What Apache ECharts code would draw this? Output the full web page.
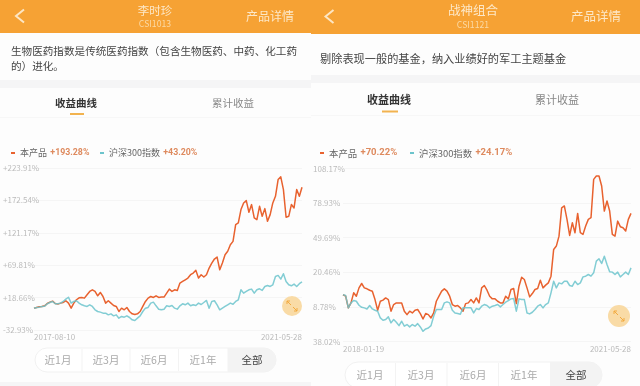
<!DOCTYPE html>
<html><head><meta charset="utf-8">
<style>html,body{margin:0;padding:0;background:#fdfdfd}#c{width:640px;height:386px;filter:blur(0.45px)}</style>
<script src="https://cdn.jsdelivr.net/npm/echarts@6/dist/echarts.min.js"></script>
</head><body><div id="c"></div>
<script>
const leftProduct=[1.7,2.8,3.8,4.4,5.4,9.1,11.2,12.8,9.1,8.1,9.7,10.7,13.4,9.7,1.7,9.7,15,18.1,18.7,17.6,22.9,28.2,30.8,28.2,21.3,26.6,20.2,9.7,13.4,9.7,6,4.4,-3.6,1.7,-0.9,2.8,-3.6,-7.3,-8.4,-7.3,-3.6,4.4,12.3,17.6,20.2,18.7,21.3,18.7,19.2,19.2,25.5,31.9,28.2,30.8,29.8,41.4,44.1,46.7,49.4,54.7,57.3,61.6,49.4,54.7,51,54.7,65.3,73.2,79.6,82.7,62.6,73.2,86.4,91.8,102.3,107.6,134.1,136.8,158,168.5,172.2,153.7,165.9,144.7,142,163.2,147.3,159.5,139.4,150,168.5,179.1,205.6,209.8,189.7,145.8,147.3,165.9,160.6,189.7,179.1,193.28];
const leftIndex=[1.7,2.8,3.3,4.4,4.9,8.6,10.7,12.3,8.6,8.6,9.7,12.3,16,19,9.7,12.3,13.4,9.7,7,5.4,4.4,7,4.4,-0.9,-3.6,-4.6,-6.2,-6.2,-8.9,-7.3,-10.5,-8.9,-14.2,-11.5,-12.6,-10.5,-13.1,-16.8,-17.9,-14.2,-10.5,-3.6,1.7,2.8,9.7,11.2,5.4,0.1,-0.9,0.1,5.4,4.4,6,1.7,0.1,5.4,8.6,7,9.7,5.4,7,6,9.7,7.5,10.7,13.9,1.7,12.3,13.4,7,-0.9,1.7,4.4,7,9.7,8,12.3,15,30.8,25.5,28.2,30.8,31.9,25.5,30.8,32.4,29.8,36.1,37.7,36.1,38.8,52,53.6,47.8,56.3,44.1,38.8,37.2,39.8,36.1,40.4,43.2];
const rightProduct=[1.5,0.25,-9.6,-5.4,3.1,0.25,7.3,11,7.3,6.5,5.3,4.5,-2.6,-11.6,-4,-3.1,-1.2,-2.6,-12.4,-6.8,-5.4,-5.4,-5.4,-12.4,-15.3,-12.4,-13.9,-11.6,-11,-14.4,-19,-14.4,-15.3,-18.1,-13.9,-4,0.25,4.5,6.5,4.5,0.25,-6.8,-8.2,-7.6,-9.6,-12.4,-6,-5.4,-2.6,-5.4,-1.2,-5.4,7.3,9.3,5.3,0.25,-2,-2,-4,-5.4,-5.4,0.25,-2,5.9,6.7,-6,8.7,16.3,14.4,7.3,-0.3,2.5,5.9,6.7,13.8,7.3,9.6,11.5,17.2,39.8,42.6,51,75,76.5,65.2,51.6,62.3,53.9,70.2,53.9,52.5,59.5,65.2,66.6,99,101.8,101.8,93.4,72.2,80.7,72.2,52.5,51,63.7,59,58.1,55.3,65.2,70.22];
const rightIndex=[1.5,0.8,-9.6,-5.4,-3.4,-4,-7.4,-9.1,-9.6,-10.5,-7.6,-10.5,-11.6,-12.4,-18.1,-20.1,-19.5,-17.2,-22.3,-19.5,-21.8,-24.6,-20.9,-25.1,-23.7,-25.7,-23.7,-25.1,-22.9,-25.7,-29.4,-27.4,-26.6,-24.6,-16.7,-11,-11,-11,-5.4,-4.5,-5.4,-11.6,-13.9,-14.4,-15,-9.6,-9.6,-9.6,-9.6,-13.9,-10.2,-11,-8.2,-6.8,-7.6,-9.6,-8.2,-7.6,-6.8,-8.8,-6.8,-4.8,-3.4,-2,-1.7,-12.4,-2,-2.6,-2.6,-13.9,-14.7,-13.3,-11,-8.2,-6.8,-9.6,-6.8,-5.4,3.1,12.9,7.3,11.5,10.7,12.9,12.9,9.3,8.7,12.9,10.1,11.5,16.6,17.2,18.6,17.2,20,29.9,31.9,27.9,34.1,27,20.9,20.6,18.6,20.6,16.6,18.6,20.6,18.6,24.17];
const leftTicks=[-32.93,18.66,69.81,121.17,172.54,223.91];
const leftTickLabels=['-32.93%','+18.66%','+69.81%','+121.17%','+172.54%','+223.91%'];
const rightTicks=[-38.02,-8.78,20.46,49.69,78.93,108.17];
const rightTickLabels=['38.02%','8.78%','20.46%','49.69%','78.93%','108.17%'];
const leftDates=['2017-08-10','2021-05-28'];
const rightDates=['2018-01-19','2021-05-28'];
const seriesNames=['本产品','沪深300指数'];
const leftReturns=['+193.28%','+43.20%'];
const rightReturns=['+70.22%','+24.17%'];
const ranges=['近1月','近3月','近6月','近1年','全部'];

const FONT='"Noto Sans CJK SC","Noto Sans",sans-serif';
const ORANGE='#E8622F',TEAL='#6CC4CC',HEAD='#F6A234';

function cats(n,d){const a=new Array(n).fill('').map((_,i)=>'p'+i);a[0]=d[0];a[n-1]=d[1];return a;}
function t(x,y,s,size,color,align,weight){return {type:'text',silent:true,z:5,x,y,style:{text:s,fontSize:size,fill:color,align:align||'center',verticalAlign:'middle',fontFamily:FONT,fontWeight:weight||'normal'}};}
function r(x,y,w,h,fill){return {type:'rect',silent:true,z:1,shape:{x,y,width:w,height:h},style:{fill}};}
function chevron(x,y){return {type:'polyline',silent:true,z:5,shape:{points:[[x+8,y-6.5],[x,y],[x+8,y+6.5]]},style:{stroke:'#FCE6C4',lineWidth:2,fill:null}};}
function expand(cx,cy,rad){return [
 {type:'circle',silent:true,z:5,shape:{cx,cy,r:rad},style:{fill:'#F9DBA6'}},
 {type:'polyline',silent:true,z:6,shape:{points:[[cx-5,cy-2],[cx-5,cy-5],[cx-2,cy-5]]},style:{stroke:'#F2A93E',lineWidth:1,fill:null}},
 {type:'line',silent:true,z:6,shape:{x1:cx-5,y1:cy-5,x2:cx-1,y2:cy-1},style:{stroke:'#F2A93E',lineWidth:1}},
 {type:'polyline',silent:true,z:6,shape:{points:[[cx+5,cy+2],[cx+5,cy+5],[cx+2,cy+5]]},style:{stroke:'#F2A93E',lineWidth:1,fill:null}},
 {type:'line',silent:true,z:6,shape:{x1:cx+5,y1:cy+5,x2:cx+1,y2:cy+1},style:{stroke:'#F2A93E',lineWidth:1}}
];}
function pills(x0,x1,y0,h,centers){
 const w=x1-x0,out=[{type:'rect',silent:true,z:2,shape:{x:x0,y:y0,width:w,height:h,r:h/2},style:{fill:'#fff',stroke:'#f1f1f1',lineWidth:1}}];
 const sep=[(centers[0]+centers[1])/2,(centers[1]+centers[2])/2,(centers[2]+centers[3])/2,(centers[3]+centers[4])/2];
 sep.slice(0,3).forEach(s=>out.push({type:'line',silent:true,z:3,shape:{x1:s,y1:y0+1,x2:s,y2:y0+h-1},style:{stroke:'#f3f3f3',lineWidth:1}}));
 out.push({type:'rect',silent:true,z:3,shape:{x:sep[3],y:y0,width:x1-sep[3],height:h,r:[0,h/2,h/2,0]},style:{fill:'#f3f3f3'}});
 ranges.forEach((s,i)=>out.push(t(centers[i],y0+h/2,s,10.5,i==4?'#444':'#aaa')));
 return out;
}
const graphic=[
 r(0,0,311,33,HEAD),r(311,0,329,34,HEAD),
 r(0,80,311,8,'#f5f5f6'),r(311,75,329,8,'#f5f5f6'),
 r(0,117,311,1,'#f7f7f7'),r(311,115,329,1,'#f7f7f7'),
 r(0,382,311,4,'#f5f5f6'),
 chevron(16,16),chevron(325.5,16.5),
 t(155,11,'李时珍',11.5,'#FDE8C8'),t(155,24,'CSI1013',8.7,'#FBD9A4'),t(270,16,'产品详情',12,'#FDE8C8'),
 t(473,10,'战神组合',12.5,'#FDE8C8'),t(473,25,'CSI1121',8.7,'#FBD9A4'),t(596,16,'产品详情',12.5,'#FDE8C8'),
 t(11,51,'生物医药指数是传统医药指数（包含生物医药、中药、化工药',10.6,'#444','left'),
 t(11,66,'的）进化。',10.6,'#444','left'),
 t(320,59,'剔除表现一般的基金，纳入业绩好的军工主题基金',11.2,'#444','left'),
 t(76,103,'收益曲线',10.5,'#333','center','bold'),t(233,103,'累计收益',10.5,'#888'),
 t(389,100,'收益曲线',11,'#333','center','bold'),t(557,100,'累计收益',11,'#888'),
 {type:'rect',silent:true,z:5,shape:{x:70,y:113,width:14,height:2},style:{fill:'#F2B34F'}},
 {type:'rect',silent:true,z:5,shape:{x:382,y:110.5,width:16,height:2},style:{fill:'#F2B34F'}},
 ...pills(35,276,348,24,[58,106,154,203,252]),
 ...pills(345,602,362,26,[370,421,473,524,576]),
 ...expand(292,306,10),...expand(619,316,11)
];
function legend(left,top,name,val,fn,fv){return {left,top,itemWidth:4,itemHeight:2,icon:'rect',selectedMode:false,data:[name],padding:0,
 formatter:()=>`{n|${name}} {v|${val}}`,
 textStyle:{rich:{n:{fontSize:fn,color:'#666',fontFamily:FONT},v:{fontSize:fv,color:'#DE8A5E',fontWeight:'bold',fontFamily:'Roboto'}}}};}
function x(i,n,d){return {gridIndex:i,type:'category',boundaryGap:false,data:cats(n,d),axisLine:{show:false},axisTick:{show:false},splitLine:{show:false},
 axisLabel:{interval:(k)=>k===0||k===n-1,alignMinLabel:'left',alignMaxLabel:'right',margin:3,fontSize:8,color:'#bbb',fontFamily:FONT,showMinLabel:true,showMaxLabel:true,hideOverlap:false}};}
function y(i,ticks,labels,margin){return {gridIndex:i,type:'value',min:ticks[0],max:ticks[5],axisLine:{show:false},
 axisTick:{show:false,customValues:ticks},splitLine:{show:true,lineStyle:{color:'#f5f5f5',width:1}},
 axisLabel:{customValues:ticks,align:'left',margin,fontSize:8,color:'#bbb',fontFamily:FONT,showMinLabel:true,showMaxLabel:true,formatter:(v)=>labels[ticks.indexOf(v)]}};}
function line(name,xi,data,color,op){return {name,type:'line',xAxisIndex:xi,yAxisIndex:xi,data,showSymbol:false,symbol:'none',animation:false,silent:true,lineStyle:{color,width:1.5,opacity:op,join:'round'},itemStyle:{color}};}
const chart=echarts.init(document.getElementById('c'),null,{renderer:'canvas'});
chart.setOption({animation:false,backgroundColor:'transparent',graphic:{elements:graphic},
 grid:[{left:33,top:168,width:269,height:162,containLabel:false},{left:343,top:168.5,width:288,height:173,containLabel:false}],
 xAxis:[x(0,leftProduct.length,leftDates),x(1,rightProduct.length,rightDates)],
 yAxis:[y(0,leftTicks,leftTickLabels,31),y(1,rightTicks,rightTickLabels,30)],
 legend:[legend(11,147,seriesNames[0],leftReturns[0],9,8.8),legend(100,147,seriesNames[1],leftReturns[1],9,8.8),legend(320,147,seriesNames[0],rightReturns[0],9.4,9.5),legend(410,147,seriesNames[1],rightReturns[1],9.4,9.5)],
 series:[line(seriesNames[0],0,leftProduct,ORANGE,1),line(seriesNames[1],0,leftIndex,TEAL,.85),line(seriesNames[0],1,rightProduct,ORANGE,1),line(seriesNames[1],1,rightIndex,TEAL,.85)]
});
</script></body></html>
